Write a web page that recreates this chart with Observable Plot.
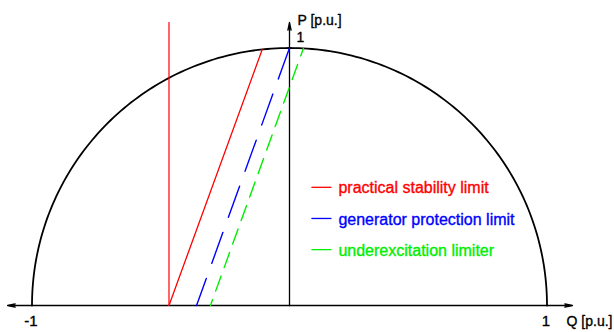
<!DOCTYPE html>
<html><head><meta charset="utf-8">
<script src="https://cdn.jsdelivr.net/npm/d3@7"></script>
<script src="https://cdn.jsdelivr.net/npm/@observablehq/plot@0.6"></script>
<style>html,body{margin:0;padding:0;background:#fff;} svg{display:block}</style>
</head><body><div id="chart"></div>
<script>
// ---- data (per-unit Q, P) ----
const seriesNames = ["practical stability limit", "generator protection limit", "underexcitation limiter"];
const seriesColors = ["#ff0000", "#0000ff", "#00ee00"];
const practicalVertical = [{q: -0.468, p: 0}, {q: -0.468, p: 1.099}];
const practicalSlant = [{q: -0.468, p: 0}, {q: -0.106, p: 0.994}];
const protectionLine = [{q: 0, p: 1}, {q: -0.361, p: 0}];
const limiterLine = [{q: 0.054, p: 0.998}, {q: -0.307, p: 0}];
const qAxisExtent = [-1.095, 1.099];
const pAxisExtent = [0, 1.099];
const qTicks = [-1, 1];
const qTickLabels = ["-1", "1"];
const pTicks = [1];
const pTickLabels = ["1"];
const qAxisLabel = "Q [p.u.]";
const pAxisLabel = "P [p.u.]";
const circleRadius = 1; // capability circle P^2 + Q^2 = 1

// ---- derived ----
const unitPx = 257.5;
const xDomain = [-289 / unitPx, 325 / unitPx];
const yDomain = [-27 / unitPx, 305 / unitPx];
const circle = d3.range(0, 181, 1).map(a => ({
  q: circleRadius * Math.cos(a * Math.PI / 180),
  p: circleRadius * Math.sin(a * Math.PI / 180)
}));
const qTickData = qTicks.map((q, i) => ({q, p: 0, label: qTickLabels[i]}));
const pTickData = pTicks.map((p, i) => ({q: 0, p, label: pTickLabels[i]}));
const legendRows = seriesNames.map((name, i) => ({name, color: seriesColors[i], p: 0.459 - i * 0.121}));
const font = "'Liberation Sans', Arial, Helvetica, sans-serif";
const arrowStyle = {stroke: "#000", strokeWidth: 1.3, headLength: 9, headAngle: 24};
const blackText = {fill: "#000", stroke: "#000", strokeWidth: 0.35};

const legendMarks = legendRows.flatMap(r => [
  Plot.link([r], {x1: () => 0.085, x2: () => 0.163, y1: "p", y2: "p", stroke: r.color, strokeWidth: 1.3}),
  Plot.text([r], {x: () => 0.19, y: "p", text: "name", fill: r.color, stroke: r.color, strokeWidth: 0.35, textAnchor: "start", fontSize: 16, dy: 1})
]);

const chart = Plot.plot({
  width: 614,
  height: 332,
  margin: 0,
  x: {domain: xDomain, axis: null},
  y: {domain: yDomain, axis: null},
  style: {fontFamily: font, background: "#fff", color: "#000"},
  marks: [
    Plot.line(circle, {x: "q", y: "p", stroke: "#000", strokeWidth: 1.8}),
    Plot.arrow([{a: 0, b: qAxisExtent[0]}], {x1: "a", y1: () => 0, x2: "b", y2: () => 0, ...arrowStyle}),
    Plot.arrow([{a: 0, b: qAxisExtent[1]}], {x1: "a", y1: () => 0, x2: "b", y2: () => 0, ...arrowStyle}),
    Plot.arrow([{a: pAxisExtent[0], b: pAxisExtent[1]}], {x1: () => 0, y1: "a", x2: () => 0, y2: "b", ...arrowStyle}),
    Plot.line(practicalVertical, {x: "q", y: "p", stroke: seriesColors[0], strokeWidth: 1.2}),
    Plot.line(practicalSlant, {x: "q", y: "p", stroke: seriesColors[0], strokeWidth: 1.3}),
    Plot.line(protectionLine, {x: "q", y: "p", stroke: seriesColors[1], strokeWidth: 1.4, strokeDasharray: "33,16"}),
    Plot.line(limiterLine, {x: "q", y: "p", stroke: seriesColors[2], strokeWidth: 1.4, strokeDasharray: "16,9", strokeDashoffset: 8}),
    Plot.text(qTickData, {x: "q", y: "p", text: "label", fontSize: 15, dy: 16, dx: -1, textAnchor: "middle", ...blackText}),
    Plot.text(pTickData, {x: "q", y: "p", text: "label", fontSize: 14, dy: -10, dx: 7, textAnchor: "start", ...blackText}),
    Plot.text([qAxisLabel], {x: () => 1.076, y: () => 0, text: d => d, fontSize: 14, dy: 16, textAnchor: "start", ...blackText}),
    Plot.text([pAxisLabel], {x: () => 0, y: () => 1.105, text: d => d, fontSize: 14, dx: 8, textAnchor: "start", ...blackText}),
    ...legendMarks
  ]
});
document.getElementById("chart").appendChild(chart);
</script>
</body></html>
